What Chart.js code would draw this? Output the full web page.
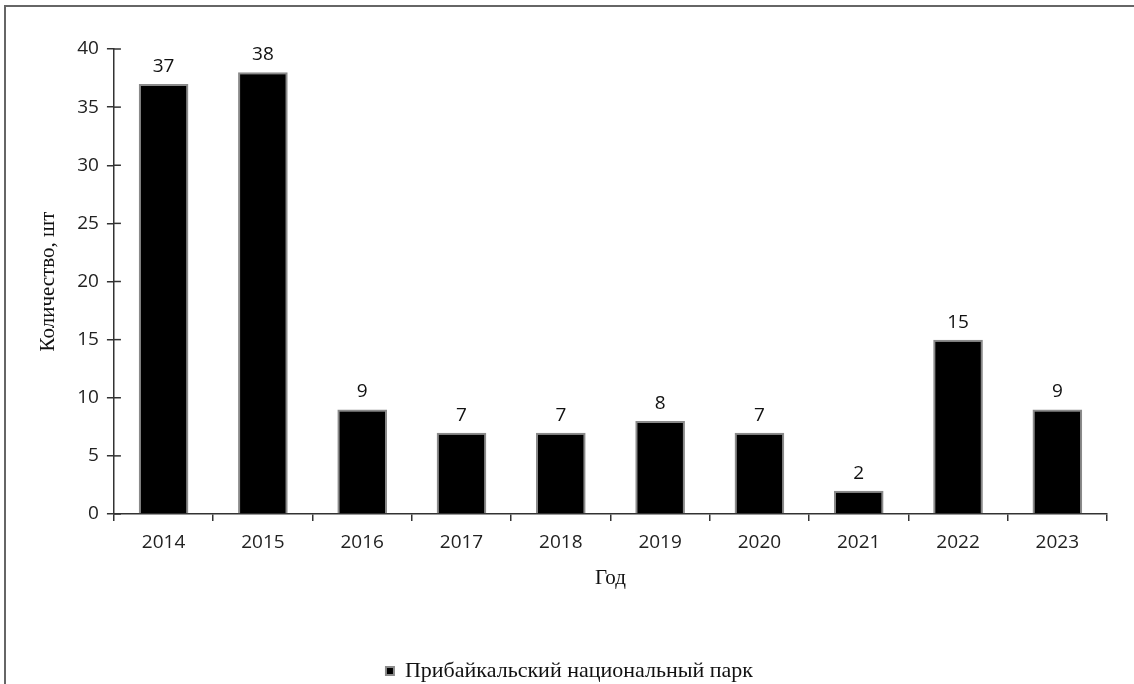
<!DOCTYPE html>
<html lang="ru">
<head>
  <meta charset="UTF-8" />
  <title>Прибайкальский национальный парк</title>
  <script src="https://cdn.jsdelivr.net/npm/chart.js"></script>
  <style>
    html, body { margin: 0; padding: 0; background: #fff; overflow: hidden; }
    #frame {
      position: absolute; left: 4px; top: 5px;
      width: 1130px; height: 679px;
      border-top: 2px solid #666; border-left: 2px solid #666;
    }
    canvas { display: block; }
  </style>
</head>
<body>
  <div id="frame"><canvas id="chart" width="1128" height="685"></canvas></div>

  <script>
    const years = ['2014', '2015', '2016', '2017', '2018', '2019', '2020', '2021', '2022', '2023'];
    const counts = [37, 38, 9, 7, 7, 8, 7, 2, 15, 9];
    const seriesName = 'Прибайкальский национальный парк';

    // value labels above each bar
    const valueLabels = {
      id: 'valueLabels',
      afterDatasetsDraw(chart) {
        const ctx = chart.ctx;
        const meta = chart.getDatasetMeta(0);
        ctx.save();
        ctx.font = '19px "Open Sans"';
        ctx.fillStyle = '#111';
        ctx.textAlign = 'center';
        ctx.textBaseline = 'bottom';
        meta.data.forEach((bar, i) => {
          ctx.fillText(counts[i], bar.x, bar.y - 8);
        });
        ctx.restore();
      }
    };

    // y ticks crossing the axis line
    const crossTicks = {
      id: 'crossTicks',
      afterDraw(chart) {
        const y = chart.scales.y;
        const ctx = chart.ctx;
        ctx.save();
        ctx.strokeStyle = '#333';
        ctx.lineWidth = 1.5;
        y.ticks.forEach(t => {
          const py = y.getPixelForValue(t.value);
          ctx.beginPath();
          ctx.moveTo(y.right, py);
          ctx.lineTo(y.right + 7, py);
          ctx.stroke();
        });
        ctx.restore();
      }
    };

    new Chart(document.getElementById('chart'), {
      type: 'bar',
      data: {
        labels: years,
        datasets: [{
          label: seriesName,
          data: counts,
          backgroundColor: '#000',
          borderColor: '#8a8a8a',
          borderWidth: 2,
          barPercentage: 0.5,
          categoryPercentage: 1
        }]
      },
      options: {
        responsive: false,
        animation: false,
        layout: { padding: { top: 42, right: 27, left: 26, bottom: 0 } },
        plugins: {
          tooltip: { enabled: false },
          legend: {
            position: 'bottom',
            labels: {
              color: '#111',
              font: { family: '"Liberation Serif"', size: 22 },
              boxWidth: 8, boxHeight: 8,
              padding: 0
            }
          }
        },
        scales: {
          x: {
            grid: { drawOnChartArea: false, color: '#333', tickLength: 7, lineWidth: 1.5 },
            border: { color: '#333', width: 1.5 },
            ticks: { color: '#222', font: { family: '"Open Sans"', size: 19 }, padding: 10 },
            title: {
              display: true, text: 'Год', color: '#111',
              font: { family: '"Liberation Serif"', size: 21 },
              padding: { top: 2, bottom: 69 }
            }
          },
          y: {
            min: 0, max: 40,
            grid: { drawOnChartArea: false, color: '#333', tickLength: 7, lineWidth: 1.5 },
            border: { color: '#333', width: 1.5 },
            ticks: { stepSize: 5, color: '#222', font: { family: '"Open Sans"', size: 19 }, padding: 8 },
            title: {
              display: true, text: 'Количество, шт', color: '#111',
              font: { family: '"Liberation Serif"', size: 21 },
              padding: { bottom: 8 }
            }
          }
        }
      },
      plugins: [valueLabels, crossTicks]
    });
  </script>
</body>
</html>
